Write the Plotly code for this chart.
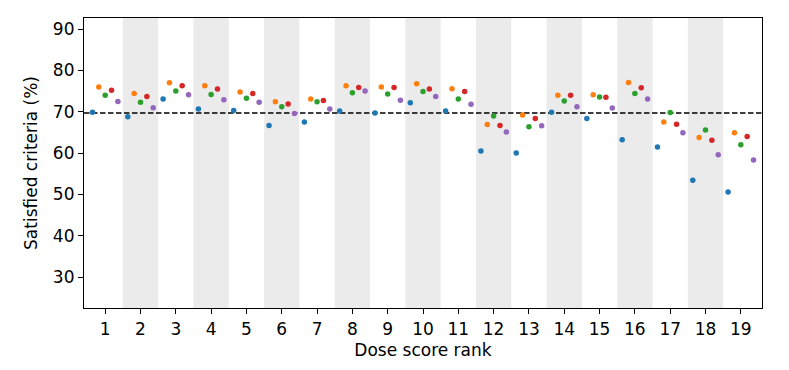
import plotly.graph_objects as go

ranks = list(range(1, 20))
series_colors = ["#1f77b4", "#ff7f0e", "#2ca02c", "#d62728", "#9467bd"]
blue = [69.9, 68.8, 73.1, 70.7, 70.3, 66.7, 67.5, 70.2, 69.7, 72.2, 70.2, 60.5, 60.0, 69.9, 68.4, 63.2, 61.5, 53.4, 50.6]
orange = [76.0, 74.4, 77.0, 76.3, 74.8, 72.4, 73.1, 76.3, 76.0, 76.8, 75.6, 66.9, 69.2, 74.0, 74.1, 77.1, 67.5, 63.8, 64.9]
green = [74.0, 72.3, 75.0, 74.2, 73.3, 71.2, 72.4, 74.6, 74.3, 74.9, 73.1, 69.0, 66.4, 72.6, 73.6, 74.4, 69.8, 65.6, 62.0]
red = [75.2, 73.7, 76.3, 75.5, 74.4, 71.9, 72.7, 75.9, 75.9, 75.5, 74.9, 66.7, 68.4, 74.0, 73.5, 75.8, 67.0, 63.1, 64.0]
purple = [72.5, 71.0, 74.1, 72.9, 72.3, 69.6, 70.7, 75.0, 72.8, 73.7, 71.8, 65.1, 66.6, 71.2, 70.9, 73.1, 64.9, 59.6, 58.3]
baseline = 69.7
offsets = [-0.36, -0.18, 0.0, 0.18, 0.36]

fig = go.Figure()
for vals, col, off in zip([blue, orange, green, red, purple], series_colors, offsets):
    fig.add_trace(go.Scatter(
        x=[r + off for r in ranks], y=vals, mode="markers",
        marker=dict(color=col, size=5.5, line=dict(width=0)),
        showlegend=False, hoverinfo="skip"))

shapes = []
for r in ranks:
    if r % 2 == 0:
        shapes.append(dict(type="rect", xref="x", yref="paper", x0=r - 0.5, x1=r + 0.5,
                           y0=0, y1=1, fillcolor="#ebebeb", line=dict(width=0), layer="below"))
shapes.append(dict(type="line", xref="paper", yref="y", x0=0, x1=1, y0=baseline, y1=baseline,
                   line=dict(color="black", width=1.5, dash="5.5px,2.5px"), layer="below"))

font = dict(family="DejaVu Sans", size=17, color="black")
axis_common = dict(showline=True, mirror=True, linecolor="black", linewidth=1.2,
                   ticks="outside", ticklen=5, tickwidth=1.2, tickcolor="black",
                   showgrid=False, zeroline=False, tickfont=font)

fig.update_layout(
    width=781, height=362,
    margin=dict(l=76, r=27, t=10, b=62),
    plot_bgcolor="white", paper_bgcolor="white",
    shapes=shapes,
    xaxis=dict(range=[0.4, 19.6], tickmode="array", tickvals=ranks,
               ticktext=[str(r) for r in ranks],
               title=dict(text="Dose score rank", font=font, standoff=6),
               **axis_common),
    yaxis=dict(range=[22.5, 92.7], tickmode="array", tickvals=[30, 40, 50, 60, 70, 80, 90],
               title=dict(text="Satisfied criteria (%)", font=font, standoff=10),
               **axis_common),
)

fig.write_html("out.html")
